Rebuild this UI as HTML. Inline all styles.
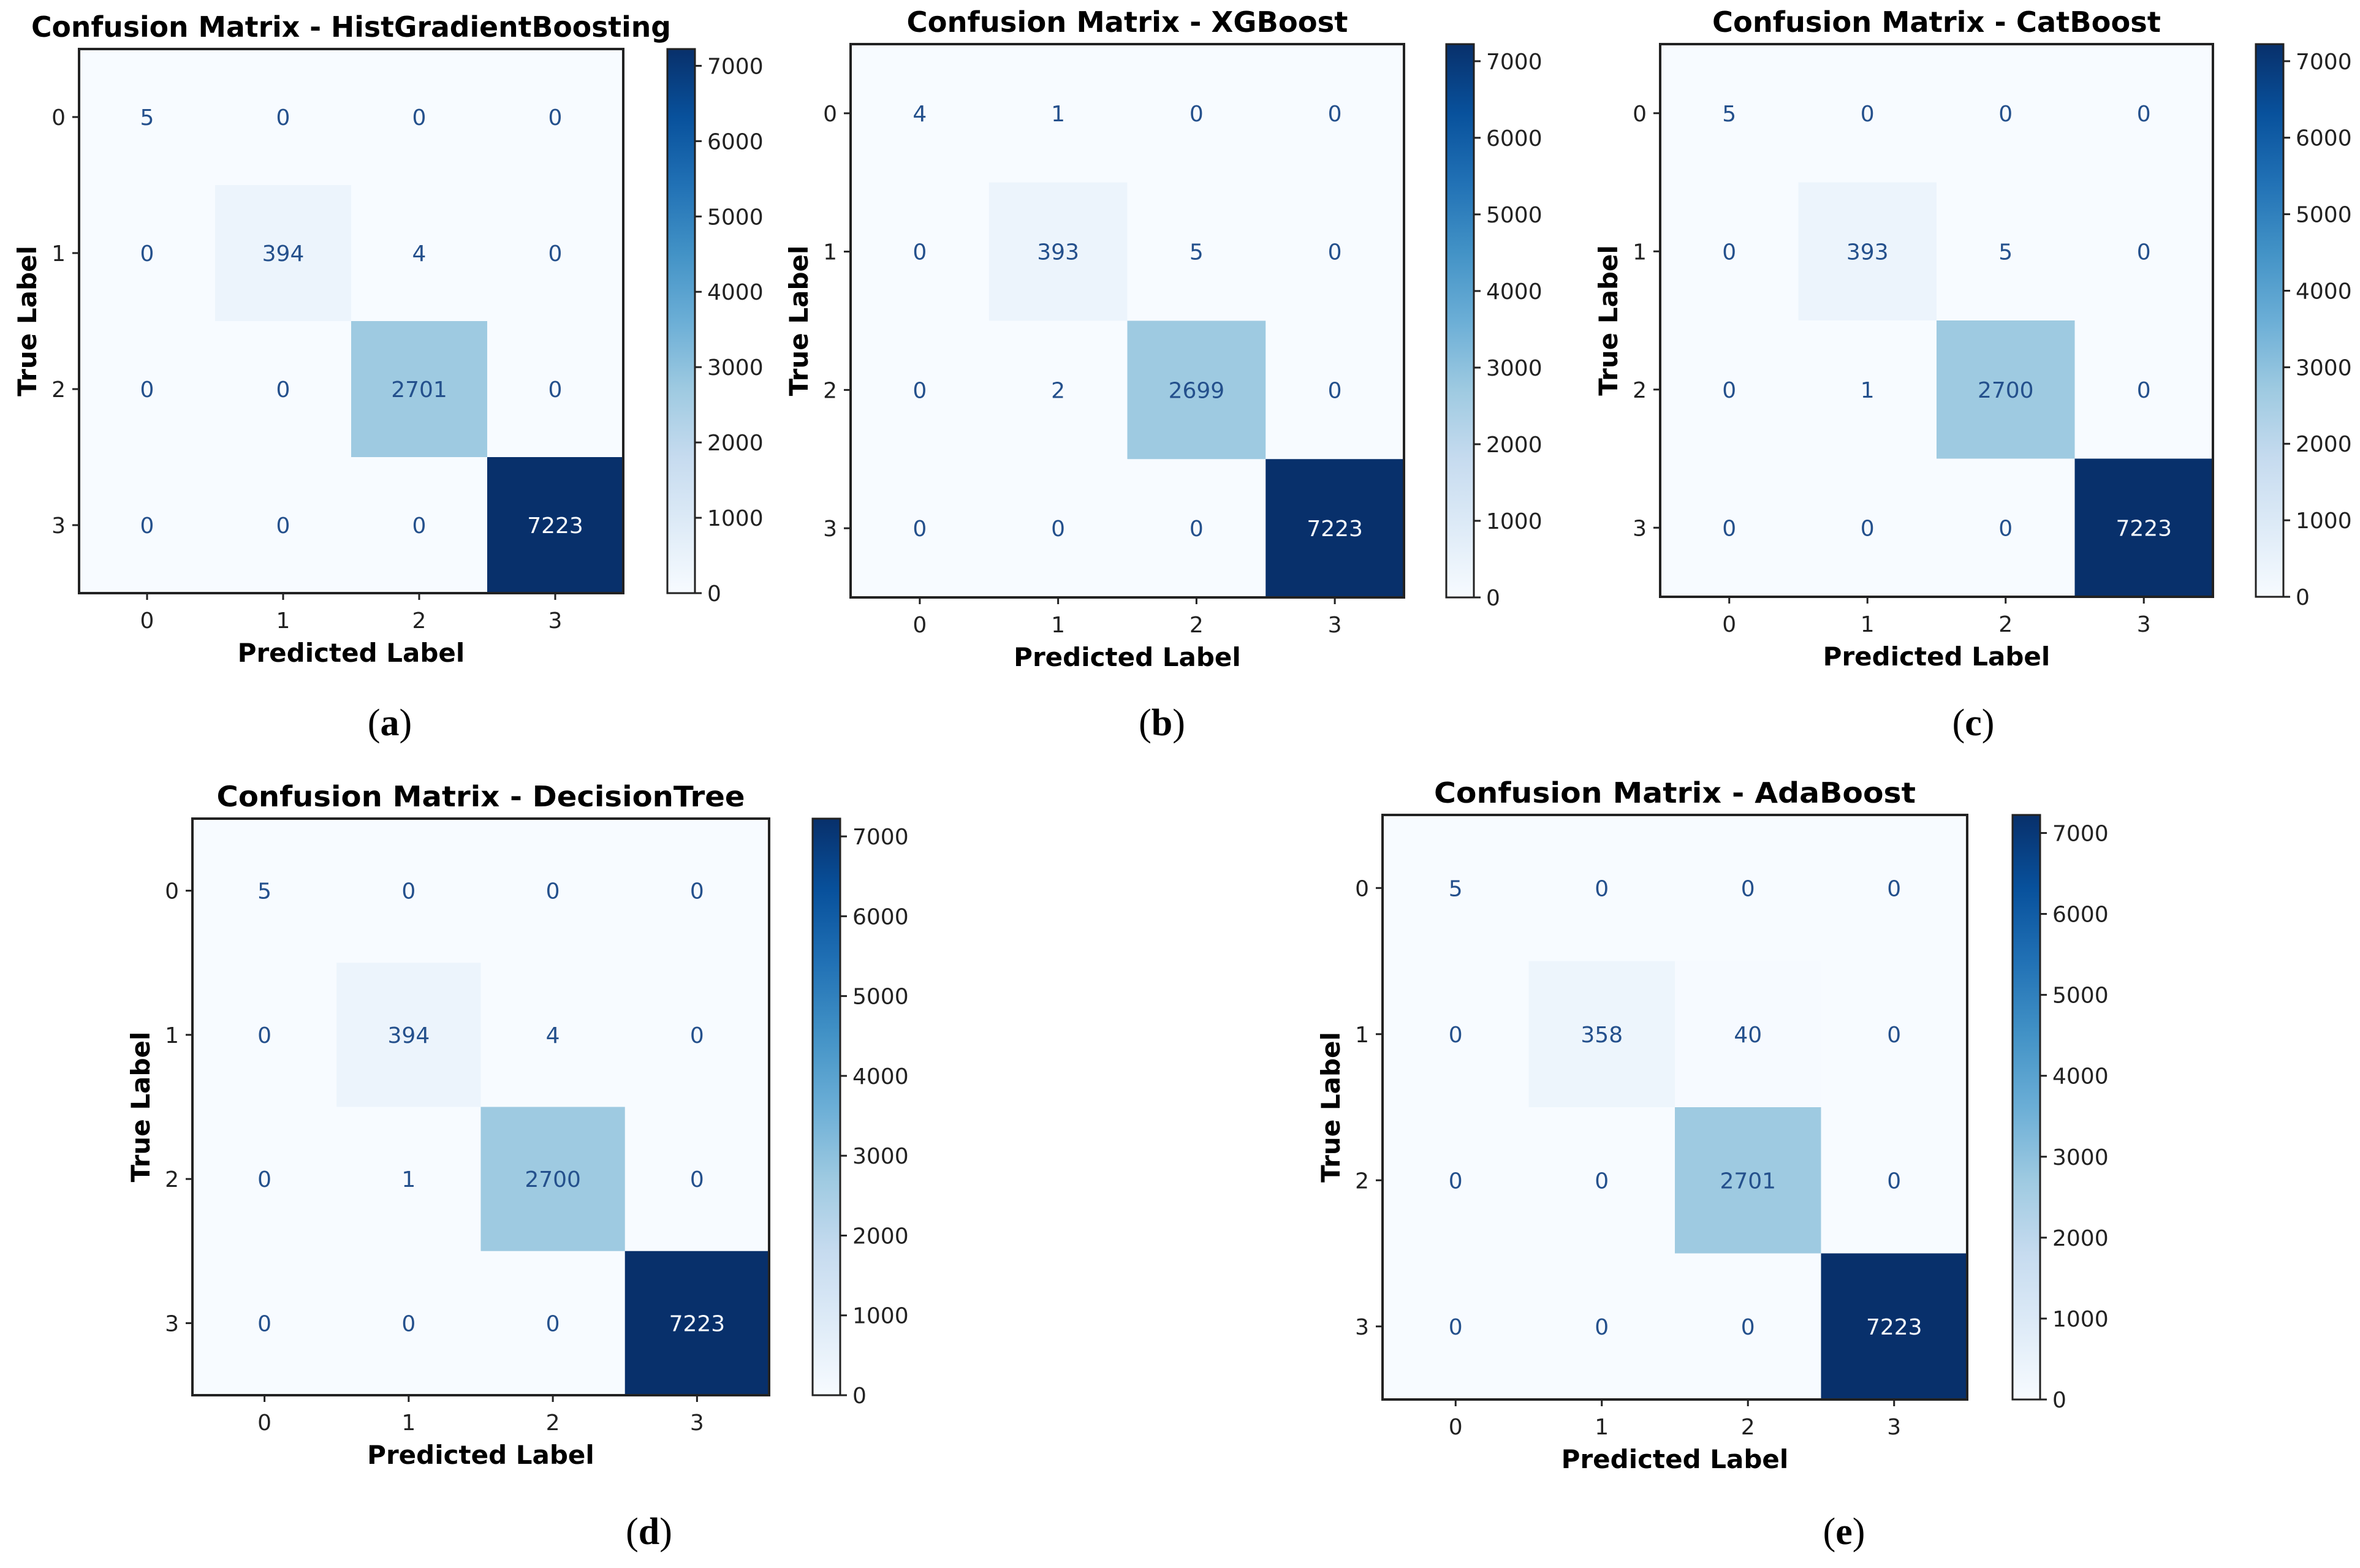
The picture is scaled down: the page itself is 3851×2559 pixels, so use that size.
<!DOCTYPE html>
<html><head><meta charset="utf-8">
<style>
html,body{margin:0;padding:0;background:#fff;}
svg{display:block;}
text{font-family:"DejaVu Sans","Liberation Sans",sans-serif;}
</style></head>
<body>
<svg id="fig" width="3851" height="2559" viewBox="0 0 3851 2559" xmlns="http://www.w3.org/2000/svg">
<defs>
<linearGradient id="blues" x1="0" y1="1" x2="0" y2="0">
<stop offset="0" stop-color="#f7fbff"/><stop offset="0.125" stop-color="#deebf7"/>
<stop offset="0.25" stop-color="#c6dbef"/><stop offset="0.375" stop-color="#9ecae1"/>
<stop offset="0.5" stop-color="#6baed6"/><stop offset="0.625" stop-color="#4292c6"/>
<stop offset="0.75" stop-color="#2171b5"/><stop offset="0.875" stop-color="#08519c"/>
<stop offset="1" stop-color="#08306b"/>
</linearGradient>
</defs>
</svg>
<script>
const classLabels = ["0","1","2","3"];
const cbTicks = [0,1000,2000,3000,4000,5000,6000,7000];
const matHist = [[5,0,0,0],[0,394,4,0],[0,0,2701,0],[0,0,0,7223]];
const matXGB = [[4,1,0,0],[0,393,5,0],[0,2,2699,0],[0,0,0,7223]];
const matCat = [[5,0,0,0],[0,393,5,0],[0,1,2700,0],[0,0,0,7223]];
const matDT = [[5,0,0,0],[0,394,4,0],[0,1,2700,0],[0,0,0,7223]];
const matAda = [[5,0,0,0],[0,358,40,0],[0,0,2701,0],[0,0,0,7223]];
const panelTitles = ["Confusion Matrix - HistGradientBoosting","Confusion Matrix - XGBoost","Confusion Matrix - CatBoost","Confusion Matrix - DecisionTree","Confusion Matrix - AdaBoost"];
const panelTags = ["(a)","(b)","(c)","(d)","(e)"];

const layouts = [
 {x:129,y:80,s:888,cb:1089,tw:1044,lab:[636,1200],key:"hist"},
 {x:1388,y:72,s:903,cb:2360,tw:720,lab:[1896,1200],key:"xgboost"},
 {x:2709,y:72,s:902,cb:3681,tw:732,lab:[3220,1200],key:"catboost"},
 {x:314,y:1336,s:941,cb:1326,tw:862,lab:[1059,2520],key:"decisiontree"},
 {x:2256,y:1330,s:954,cb:3284,tw:786,lab:[3009,2520],key:"adaboost"}
];
const mats=[matHist,matXGB,matCat,matDT,matAda];

const stops=[[247,251,255],[222,235,247],[198,219,239],[158,202,225],[107,174,214],[66,146,198],[33,113,181],[8,81,156],[8,48,107]];
function blues(t){t=Math.max(0,Math.min(1,t));const p=t*8,i=Math.min(7,Math.floor(p)),f=p-i;
 const c=stops[i].map((v,k)=>Math.round(v+(stops[i+1][k]-v)*f));return `rgb(${c[0]},${c[1]},${c[2]})`;}
const NS="http://www.w3.org/2000/svg";
const svg=document.getElementById('fig');
function mk(tag,attrs,parent,txt){const e=document.createElementNS(NS,tag);for(const k in attrs)e.setAttribute(k,attrs[k]);if(txt!==undefined)e.textContent=txt;(parent||svg).appendChild(e);return e;}

layouts.forEach((L,pi)=>{
 const M=mats[pi];
 let vmax=0,vmin=Infinity;M.forEach(r=>r.forEach(v=>{vmax=Math.max(vmax,v);vmin=Math.min(vmin,v);}));
 const g=mk('g',{});
 
 
 const cs=L.s/4;
 const xs=j=>L.x+cs*(j+0.5), ys=i=>L.y+cs*(i+0.5);
 const t=mk('text',{x:L.x+L.s/2,y:L.y-20,'text-anchor':'middle','font-size':46,'font-weight':'bold',fill:'#000',textLength:L.tw,lengthAdjust:'spacingAndGlyphs'},g,panelTitles[pi]);
 
 
 M.forEach((row,i)=>row.forEach((v,j)=>{
  const tt=(v-vmin)/(vmax-vmin);
  const r=mk('rect',{x:L.x+cs*j,y:L.y+cs*i,width:cs+0.5,height:cs+0.5,fill:blues(tt)},g);
  
  
  const tx=mk('text',{x:xs(j),y:ys(i)+13,'text-anchor':'middle','font-size':36,fill:tt>0.5?'#f7fbff':'#24508c'},g,String(v));
  
  
 }));
 const fr=mk('rect',{x:L.x,y:L.y,width:L.s,height:L.s,fill:'none',stroke:'#222','stroke-width':4},g);
 
 
 classLabels.forEach((lb,k)=>{
  mk('line',{x1:L.x-11,x2:L.x,y1:ys(k),y2:ys(k),stroke:'#222','stroke-width':3},g);
  const yl=mk('text',{x:L.x-22,y:ys(k)+13,'text-anchor':'end','font-size':36,fill:'#222'},g,lb);
  
  
  mk('line',{x1:xs(k),x2:xs(k),y1:L.y+L.s,y2:L.y+L.s+11,stroke:'#222','stroke-width':3},g);
  const xl=mk('text',{x:xs(k),y:L.y+L.s+57,'text-anchor':'middle','font-size':36,fill:'#222'},g,lb);
  
  
 });
 const xt=mk('text',{x:L.x+L.s/2,y:L.y+L.s+112,'text-anchor':'middle','font-size':42,'font-weight':'bold',fill:'#000'},g,'Predicted Label');
 
 
 const yt=mk('text',{x:0,y:0,'text-anchor':'middle','font-size':42,'font-weight':'bold',fill:'#000',transform:`translate(${L.x-70},${L.y+L.s/2}) rotate(-90)`},g,'True Label');
 
 
 const cbw=45;
 const cb=mk('rect',{x:L.cb,y:L.y,width:cbw,height:L.s,fill:'url(#blues)',stroke:'#222','stroke-width':3},g);
 
 
 const cy=v=>L.y+L.s-(v-vmin)/(vmax-vmin)*L.s;
 cbTicks.forEach(v=>{
  if(v>vmax)return;
  mk('line',{x1:L.cb+cbw,x2:L.cb+cbw+11,y1:cy(v),y2:cy(v),stroke:'#222','stroke-width':3},g);
  const ct=mk('text',{x:L.cb+cbw+20,y:cy(v)+13,'font-size':36,fill:'#222'},g,String(v));
  
  
 });
 const tg=mk('text',{x:L.lab[0],y:L.lab[1],'text-anchor':'middle','font-size':62,fill:'#000',style:'font-family:"Liberation Serif",serif'},g,'');
 
 
 const tag=panelTags[pi];
 mk('tspan',{},tg,'(');
 mk('tspan',{'font-weight':'bold'},tg,tag.slice(1,-1));
 mk('tspan',{},tg,')');
});
</script>
</body></html>
